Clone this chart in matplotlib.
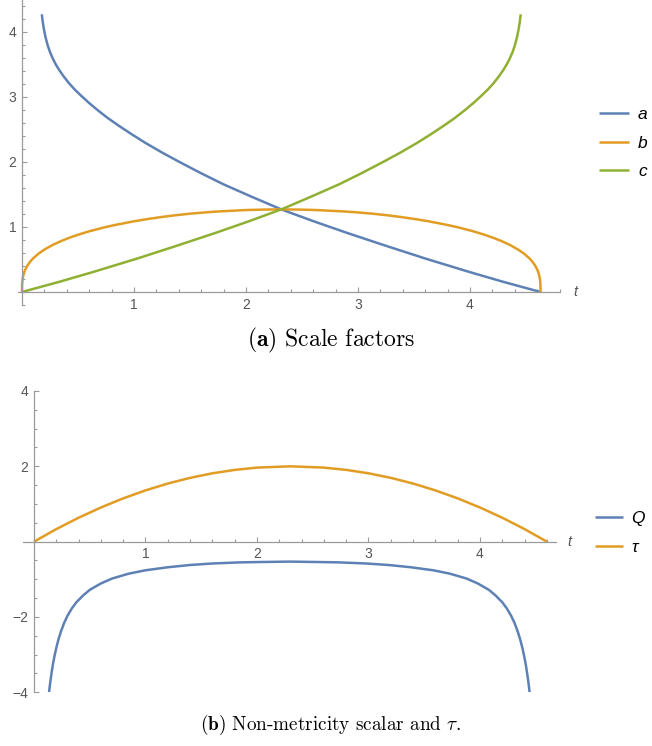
import matplotlib
matplotlib.use("Agg")
import matplotlib.pyplot as plt
from matplotlib.ticker import MultipleLocator, FixedLocator

# ----------------------------
# data
# (a) scale factors
a_t = [0.177, 0.185, 0.195, 0.21, 0.23, 0.25, 0.275, 0.3, 0.33, 0.37, 0.42, 0.47, 0.53,
       0.6, 0.68, 0.77, 0.87, 0.98, 1.1, 1.25, 1.4, 1.6, 1.8, 2.05, 2.315, 2.6, 2.9,
       3.25, 3.6, 4.0, 4.3, 4.63]
a_v = [4.27, 4.16, 4.05, 3.92, 3.79, 3.69, 3.59, 3.505, 3.42, 3.32, 3.21, 3.115, 3.015,
       2.905, 2.79, 2.67, 2.55, 2.425, 2.295, 2.145, 2.005, 1.825, 1.655, 1.465, 1.27, 1.09, 0.91,
       0.71, 0.515, 0.305, 0.155, 0.0]

b_t = [0, 0.001, 0.0025, 0.005, 0.01, 0.02, 0.03, 0.05, 0.075, 0.1, 0.15, 0.2, 0.27,
       0.35, 0.42, 0.5, 0.6, 0.75, 0.85, 1.0, 1.1, 1.25, 1.35, 1.5, 1.65, 1.75, 2.0,
       2.15, 2.315, 2.48, 2.63, 2.88, 2.98, 3.13, 3.28, 3.38, 3.53, 3.63, 3.78, 3.88,
       4.03, 4.13, 4.21, 4.28, 4.36, 4.43, 4.48, 4.53, 4.555, 4.58, 4.60, 4.61, 4.62,
       4.625, 4.6275, 4.629, 4.63]
b_v = [0, 0.112, 0.151, 0.191, 0.240, 0.303, 0.347, 0.411, 0.471, 0.518, 0.593, 0.652, 0.720,
       0.784, 0.832, 0.880, 0.933, 1.000, 1.037, 1.087, 1.116, 1.154, 1.176, 1.204, 1.226, 1.238, 1.260,
       1.267, 1.270, 1.267, 1.260, 1.238, 1.226, 1.204, 1.176, 1.154, 1.116, 1.087, 1.037, 1.000,
       0.933, 0.880, 0.832, 0.784, 0.720, 0.652, 0.593, 0.518, 0.471, 0.411, 0.347, 0.303, 0.240,
       0.191, 0.151, 0.112, 0]

c_t = [0, 0.33, 0.63, 1.03, 1.38, 1.73, 2.03, 2.315, 2.58, 2.83, 3.03, 3.23, 3.38, 3.53,
       3.65, 3.76, 3.86, 3.95, 4.03, 4.10, 4.16, 4.21, 4.26, 4.30, 4.33, 4.355, 4.38, 4.40,
       4.42, 4.435, 4.445, 4.453]
c_v = [0, 0.155, 0.305, 0.515, 0.71, 0.91, 1.09, 1.27, 1.465, 1.655, 1.825, 2.005, 2.145, 2.295,
       2.425, 2.55, 2.67, 2.79, 2.905, 3.015, 3.115, 3.21, 3.32, 3.42, 3.505, 3.59, 3.69, 3.79,
       3.92, 4.05, 4.16, 4.27]

# (b) non-metricity scalar and tau
Q_t = [0.135, 0.14, 0.15, 0.16, 0.17, 0.185, 0.2, 0.22, 0.24, 0.27, 0.3, 0.34, 0.38,
       0.44, 0.5, 0.6, 0.7, 0.85, 1.0, 1.2, 1.4, 1.6, 1.85, 2.05, 2.29,
       2.53, 2.73, 2.98, 3.18, 3.38, 3.58, 3.73, 3.88, 3.98, 4.08, 4.14, 4.2, 4.24,
       4.28, 4.31, 4.34, 4.36, 4.38, 4.395, 4.41, 4.42, 4.43, 4.44, 4.445]
Q_v = [-4.0, -3.87, -3.64, -3.44, -3.25, -3.02, -2.82, -2.59, -2.40, -2.16, -1.97, -1.77, -1.61,
       -1.43, -1.28, -1.11, -0.98, -0.85, -0.76, -0.68, -0.62, -0.58, -0.55, -0.54, -0.53,
       -0.54, -0.55, -0.58, -0.62, -0.68, -0.76, -0.85, -0.98, -1.11, -1.28, -1.43, -1.61, -1.77,
       -1.97, -2.16, -2.40, -2.59, -2.82, -3.02, -3.25, -3.44, -3.64, -3.87, -4.0]

tau_t = [0, 0.2, 0.4, 0.6, 0.8, 1.0, 1.2, 1.4, 1.6, 1.8, 2.0, 2.3, 2.6, 2.8, 3.0,
         3.2, 3.4, 3.6, 3.8, 4.0, 4.2, 4.4, 4.6]
tau_v = [0, 0.333, 0.635, 0.907, 1.149, 1.361, 1.543, 1.694, 1.815, 1.905, 1.966, 2.0,
         1.966, 1.905, 1.815, 1.694, 1.543, 1.361, 1.149, 0.907, 0.635, 0.333, 0]

x_ticks_top = [1, 2, 3, 4]
y_ticks_top = [1, 2, 3, 4]
x_ticks_bot = [1, 2, 3, 4]
y_ticks_bot = [-4, -2, 2, 4]
# ----------------------------

BLUE = "#5E81B5"
ORANGE = "#E19C24"
GREEN = "#8FB032"
AXC = "#9a9a9a"
LBL = "#555555"

plt.rcParams["font.family"] = ["Liberation Sans", "DejaVu Sans"]
plt.rcParams["mathtext.fontset"] = "cm"

W, H = 652, 746
fig = plt.figure(figsize=(W / 100, H / 100), dpi=100)


def px_axes(x0, x1, ytop, ybot):
    return fig.add_axes([x0 / W, 1 - ybot / H, (x1 - x0) / W, (ybot - ytop) / H])


def style(ax, xt, yt, ymin_step):
    for s in ("top", "right"):
        ax.spines[s].set_visible(False)
    for s in ("left", "bottom"):
        ax.spines[s].set_position(("data", 0))
        ax.spines[s].set_color(AXC)
        ax.spines[s].set_linewidth(0.9)
    ax.xaxis.set_major_locator(FixedLocator(xt))
    ax.yaxis.set_major_locator(FixedLocator(yt))
    ax.xaxis.set_minor_locator(MultipleLocator(0.2))
    ax.yaxis.set_minor_locator(MultipleLocator(ymin_step))
    ax.tick_params(which="both", direction="in", color=AXC, width=0.8)
    ax.tick_params(which="major", length=3.5, labelsize=10, labelcolor=LBL, pad=4)
    ax.tick_params(which="minor", length=2)
    ax.set_xticklabels([str(v) for v in xt])
    ax.set_yticklabels([("\u2212" + str(-v)) if v < 0 else str(v) for v in yt])
    ax.patch.set_visible(False)


# top panel
ax1 = px_axes(17.5, 559.6, 0, 305)
ax1.plot(a_t, a_v, color=BLUE, lw=1.8, label="a", solid_capstyle="butt")
ax1.plot(b_t, b_v, color=ORANGE, lw=1.8, label="b", solid_capstyle="butt")
ax1.plot(c_t, c_v, color=GREEN, lw=1.8, label="c", solid_capstyle="butt")
ax1.set_xlim(-0.04, 4.8)
ax1.set_ylim(-0.2, 4.49)
style(ax1, x_ticks_top, y_ticks_top, 0.2)
ax1.text(4.92, 0, "t", color=LBL, fontsize=10.5, style="italic", va="center", ha="left")
ax1.legend(loc="center left", bbox_to_anchor=(599 / W, 1 - 143 / H),
           bbox_transform=fig.transFigure, frameon=False, borderpad=0,
           borderaxespad=0, handlelength=1.7, handletextpad=0.55,
           labelspacing=0.78, prop={"size": 12.5, "style": "italic"})

# bottom panel
ax2 = px_axes(22.85, 555.8, 391, 692.3)
ax2.plot(Q_t, Q_v, color=BLUE, lw=1.8, label="Q", solid_capstyle="butt")
ax2.plot(tau_t, tau_v, color=ORANGE, lw=1.8, label="\u03c4", solid_capstyle="butt")
ax2.set_xlim(-0.1, 4.68)
ax2.set_ylim(-4, 4)
style(ax2, x_ticks_bot, y_ticks_bot, 0.5)
ax2.text(4.78, 0, "t", color=LBL, fontsize=10.5, style="italic", va="center", ha="left")
ax2.legend(loc="center left", bbox_to_anchor=(595 / W, 1 - 533 / H),
           bbox_transform=fig.transFigure, frameon=False, borderpad=0,
           borderaxespad=0, handlelength=1.6, handletextpad=0.5,
           labelspacing=0.8, prop={"size": 12.5, "style": "italic"})

# captions
fig.text(331.5 / W, 1 - 340 / H, r"$\mathbf{(a)}$ Scale factors", family="cmr10",
         fontsize=17, ha="center", va="center")
fig.text(330.5 / W, 1 - 725 / H, r"$\mathbf{(b)}$ Non-metricity scalar and $\tau$.",
         family="cmr10", fontsize=13.8, ha="center", va="center")

fig.savefig("out.png", dpi=100)
